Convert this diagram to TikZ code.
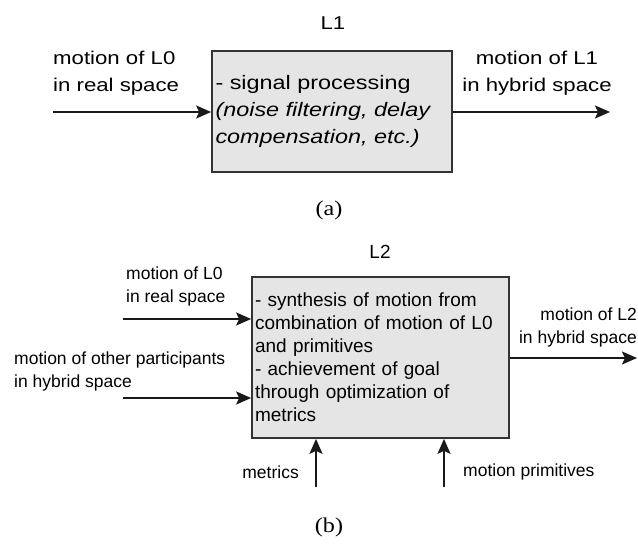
\documentclass[tikz,border=0pt]{standalone}
\usepackage{fontspec}
\setmainfont{Liberation Sans}
\newfontfamily\widesans[FakeStretch=1.2]{Liberation Sans}
\newfontfamily\capserif[FakeStretch=1.15]{Liberation Serif}
\usetikzlibrary{arrows.meta,positioning}
\tikzset{
  block/.style={draw=black!80, line width=1.7pt, fill=black!10, align=left, inner sep=3pt},
  toplbl/.style={font=\widesans\fontsize{18.5}{27}\selectfont, inner sep=0pt},
  botlbl/.style={font=\fontsize{17.5}{23}\selectfont, inner sep=0pt},
  caption/.style={font=\capserif\fontsize{21}{23}\selectfont, inner sep=0pt},
  flow/.style={-{Stealth[length=15pt,width=13pt,inset=3pt]}, line width=2pt, black!90}
}
\begin{document}
\begin{tikzpicture}[x=1pt,y=-1pt]
  \useasboundingbox (0,0) rectangle (638,548);

  % (a) level 1
  \node[toplbl] (l1) at (333,23) {L1};
  \node[block, font=\widesans\fontsize{19.5}{27}\selectfont, minimum width=240pt, minimum height=121pt, text width=233pt] (proc) at (332,111.5)
    {- signal processing\\\textit{(noise filtering, delay}\\\textit{compensation, etc.)}};
  \node[toplbl, anchor=west, align=left] (in1txt) at (53,73.5) {motion of L0\\in real space};
  \node[toplbl, align=center] (out1txt) at (537,73.5) {motion of L1\\in hybrid space};
  \coordinate (in1) at (53,112);
  \coordinate (out1) at (610,112);
  \draw[flow] (in1) -- (in1 -| proc.west);
  \draw[flow] (proc.east |- out1) -- (out1);
  \node[caption] (capa) at (329,210) {(a)};

  % (b) level 2
  \node[botlbl, font=\fontsize{19}{23}\selectfont] (l2) at (380,252) {L2};
  \node[block, font=\fontsize{19}{23}\selectfont, minimum width=257pt, minimum height=161pt, text width=251pt] (synth) at (380.5,357.5)
    {- synthesis of motion from\\combination of motion of L0\\and primitives\\- achievement of goal\\through optimization of\\metrics};
  \node[botlbl, anchor=west, align=left] (in2txt) at (126,286.5) {motion of L0\\in real space};
  \node[botlbl, anchor=west, align=left] (othtxt) at (14,371.5) {motion of other participants\\in hybrid space};
  \node[botlbl, anchor=east, align=right] (out2txt) at (637,327) {motion of L2\\in hybrid space};
  \node[botlbl, anchor=east] (mettxt) at (299,472) {metrics};
  \node[botlbl, anchor=west] (primtxt) at (463,472) {motion primitives};
  \coordinate (in2) at (123,319);
  \coordinate (oth) at (123,398);
  \coordinate (out2) at (637,358);
  \coordinate (met) at (316,487);
  \coordinate (prim) at (444,487);
  \draw[flow] (in2) -- (in2 -| synth.west);
  \draw[flow] (oth) -- (oth -| synth.west);
  \draw[flow] (synth.east |- out2) -- (out2);
  \draw[flow] (met) -- (met |- synth.south);
  \draw[flow] (prim) -- (prim |- synth.south);
  \node[caption] (capb) at (329,527) {(b)};
\end{tikzpicture}
\end{document}
